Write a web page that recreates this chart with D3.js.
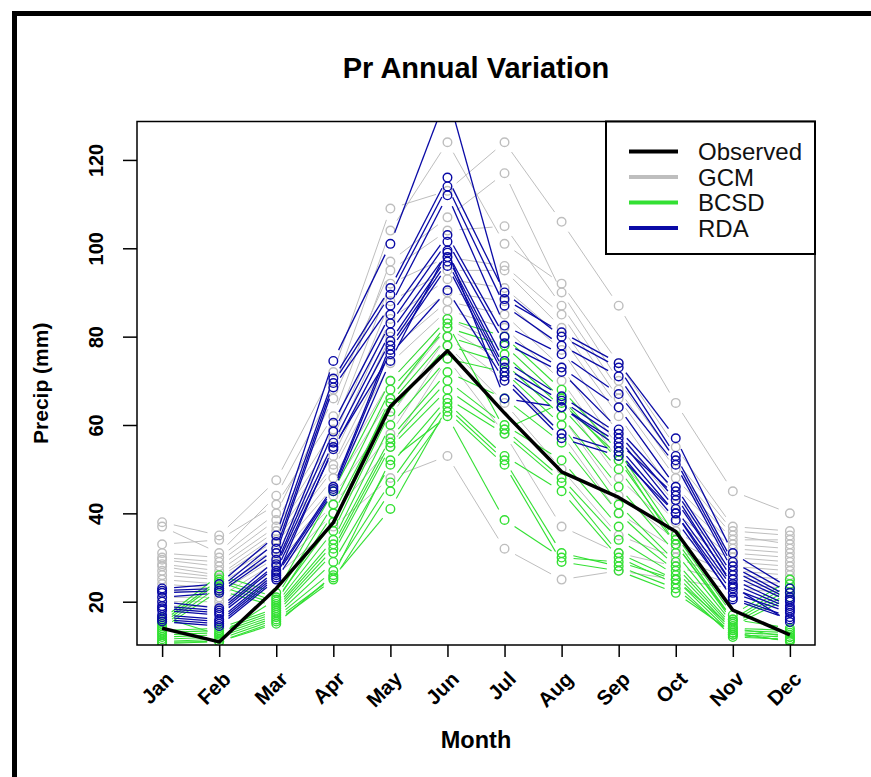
<!DOCTYPE html>
<html>
<head>
<meta charset="utf-8">
<script src="https://cdn.jsdelivr.net/npm/d3@7"></script>
<style>
  html, body { margin: 0; padding: 0; background: #fff; }
  svg { display: block; font-family: "Liberation Sans", Arial, sans-serif; }
</style>
</head>
<body>
<svg id="chart" width="871" height="777"></svg>
<script>
// Monthly precipitation (mm): observed climatology and three model ensembles
const months = ["Jan","Feb","Mar","Apr","May","Jun","Jul","Aug","Sep","Oct","Nov","Dec"];
const yTicks = [20, 40, 60, 80, 100, 120];

const observed = [14.0, 10.9, 23.0, 37.9, 64.2, 76.8, 62.7, 49.4, 43.6, 35.9, 18.1, 12.5];

const gcm = [
  [38, 35, 47.5, 72, 109, 113, 124, 106, 87, 65, 45, 40],
  [37, 31, 44, 68, 104, 124, 101, 92, 74, 55, 37, 36],
  [33, 34, 42, 62, 97, 107, 117, 90, 70, 52, 36, 35],
  [31, 30, 40, 66, 95, 104, 105, 87, 68, 50, 35, 33],
  [30, 29, 38.5, 59, 92, 98, 96, 85, 66, 48, 34, 34],
  [29.5, 28, 37, 57, 88, 95, 95, 82, 64, 46, 33, 32],
  [28.5, 27, 36, 55, 84, 93, 91, 80, 62, 44, 32, 31],
  [28, 26, 35, 53, 80, 90, 88, 77, 58, 42, 31, 30],
  [27, 25.5, 34, 51, 77, 88, 85, 73, 55, 40, 30, 29],
  [26, 25, 33, 50, 74, 86, 82, 70, 52, 38, 29, 28],
  [25, 24, 32, 48, 70, 84, 78, 66, 48, 36, 28, 27],
  [24, 23, 31, 46, 66, 82, 74, 62, 44, 34, 27, 26],
  [22.5, 22, 30, 44, 62, 80, 70, 58, 40, 32, 26, 25],
  [21, 21, 29, 42, 58, 78, 65, 50, 35, 30, 25, 24],
  [20, 20, 27, 40, 55, 75, 58, 37, 31, 28, 24, 23],
  [19, 19, 26, 37, 48, 53, 32, 25, 27, 25, 23, 22]
];

const bcsd = [
  [16, 26, 22, 45, 70, 84, 80, 68, 54, 35, 17, 25],
  [15.5, 25, 21, 42, 68, 82, 78, 66, 52, 34, 16, 24],
  [15, 24.5, 20, 40, 65, 80, 76, 64, 50, 33, 15.5, 23],
  [14.5, 23.5, 19.5, 36, 63, 78, 74, 62, 46, 31, 15, 22],
  [14, 22.5, 19, 34, 60, 75, 72, 60, 42, 29, 14.5, 21],
  [13.5, 14, 18.5, 33, 57, 72, 66, 56, 40, 28, 14, 13.5],
  [13, 13.5, 18, 32, 56, 70, 60, 52, 37, 27, 13.5, 13],
  [12.5, 13, 17.5, 31, 55, 68, 59, 48, 34, 26, 13, 12.5],
  [12, 12.5, 17, 29, 51, 66, 58, 47, 31, 25, 12.5, 12],
  [11.5, 12, 16.5, 27, 47, 65, 53, 45, 30, 24, 12, 11.5],
  [11, 11.5, 16, 25.5, 41, 64, 52, 31, 28, 23, 12.5, 11.2],
  [10.8, 11, 15.5, 25, 45, 63, 51, 29, 27, 22, 13, 11],
  [16.5, 12.5, 20.5, 38, 66, 83, 59, 65, 53, 33, 16, 14],
  [10.5, 11, 15, 26, 52, 62, 38.5, 30, 29, 25, 14, 12]
];

const rda = [
  [23, 24, 35, 74.5, 101, 135, 88.5, 81, 74, 57, 31, 23],
  [22.5, 23, 33.5, 70.5, 91, 116, 90, 80, 73, 53, 29, 22],
  [22, 22.5, 32, 69.5, 89.5, 114, 87, 78, 71, 52, 28, 21],
  [21, 22, 31, 68.5, 87, 112, 82.5, 76, 67, 51, 27, 20.5],
  [20, 18.5, 29.5, 60.5, 85, 103, 80, 73, 64, 46, 26, 20],
  [19, 18, 28.5, 58.5, 83, 101.5, 78.5, 72, 59, 45, 25, 19],
  [18.5, 17.5, 28, 56, 81, 99, 74.5, 66.5, 58, 43, 24, 18.5],
  [18, 17, 27, 54.5, 79, 98, 73, 65.5, 57, 41, 23, 18],
  [17, 16, 26.5, 46, 78, 97, 72, 64, 55, 40, 22, 17.5],
  [16.5, 15.5, 26, 45.5, 77, 96, 71, 58, 54, 38.5, 21, 16.5],
  [16, 15, 25.5, 55, 76, 90.5, 70, 57, 53, 40, 20.5, 16],
  [15.5, 14.5, 25, 45, 74.5, 99.5, 66, 64, 56, 44, 23.5, 15.4]
];

const legendNames = ["Observed", "GCM", "BCSD", "RDA"];
const colors = { Observed: "#000000", GCM: "#bebebe", BCSD: "#33e033", RDA: "#0a0aa6" };

// Plot region
const plot = { left: 137, right: 815, top: 121.5, bottom: 645 };

const svg = d3.select("#chart");

const x = d3.scaleLinear().domain([0.56, 12.44]).range([plot.left, plot.right]);
const y = d3.scaleLinear().domain([10.2, 128.7]).range([plot.bottom, plot.top]);

// Outer frame
svg.append("rect")
  .attr("x", 14.5).attr("y", 13.5)
  .attr("width", 900).attr("height", 900)
  .attr("fill", "none").attr("stroke", "#000").attr("stroke-width", 5);

svg.append("defs").append("clipPath").attr("id", "plotClip")
  .append("rect")
  .attr("x", plot.left).attr("y", plot.top)
  .attr("width", plot.right - plot.left).attr("height", plot.bottom - plot.top);

const marks = svg.append("g").attr("clip-path", "url(#plotClip)");

// Points joined by segments that stop short of each point
const gap = 12;
const radius = 4.3;
function drawSeries(values, color, lw) {
  const pts = values.map((v, i) => [x(i + 1), y(v)]);
  const segs = [];
  for (let i = 0; i < pts.length - 1; i++) {
    const [x0, y0] = pts[i], [x1, y1] = pts[i + 1];
    const L = Math.hypot(x1 - x0, y1 - y0);
    if (L <= 2 * gap) continue;
    const ux = (x1 - x0) / L, uy = (y1 - y0) / L;
    segs.push([x0 + ux * gap, y0 + uy * gap, x1 - ux * gap, y1 - uy * gap]);
  }
  const g = marks.append("g");
  g.selectAll("line").data(segs).join("line")
    .attr("x1", d => d[0]).attr("y1", d => d[1])
    .attr("x2", d => d[2]).attr("y2", d => d[3])
    .attr("stroke", color).attr("stroke-width", lw);
  g.selectAll("circle").data(pts).join("circle")
    .attr("cx", d => d[0]).attr("cy", d => d[1]).attr("r", radius)
    .attr("fill", "none").attr("stroke", color).attr("stroke-width", 1.4);
}

gcm.forEach(s => drawSeries(s, colors.GCM, 1));
bcsd.forEach(s => drawSeries(s, colors.BCSD, 1.1));
rda.forEach(s => drawSeries(s, colors.RDA, 1.3));

marks.append("path")
  .datum(observed)
  .attr("d", d3.line().x((d, i) => x(i + 1)).y(d => y(d)))
  .attr("fill", "none").attr("stroke", colors.Observed)
  .attr("stroke-width", 3.5).attr("stroke-linejoin", "round");

// Plot box
svg.append("rect")
  .attr("x", plot.left).attr("y", plot.top)
  .attr("width", plot.right - plot.left).attr("height", plot.bottom - plot.top)
  .attr("fill", "none").attr("stroke", "#000").attr("stroke-width", 1.5);

// Y axis
const yAxis = svg.append("g").attr("transform", `translate(${plot.left},0)`)
  .call(d3.axisLeft(y).tickValues(yTicks).tickSize(14).tickFormat(d3.format("d")));
yAxis.select(".domain").remove();
yAxis.selectAll(".tick line").attr("stroke", "#000").attr("stroke-width", 1.5);
yAxis.selectAll(".tick text")
  .attr("x", null).attr("dy", null)
  .attr("transform", "translate(-34,0) rotate(-90)")
  .attr("text-anchor", "middle")
  .attr("font-size", 20).attr("font-weight", "bold").attr("fill", "#000")
  .attr("font-family", "Liberation Sans, Arial, sans-serif");

// X axis
const xAxis = svg.append("g").attr("transform", `translate(0,${plot.bottom})`)
  .call(d3.axisBottom(x).tickValues(d3.range(1, 13)).tickSize(12).tickFormat(d => months[d - 1]));
xAxis.select(".domain").remove();
xAxis.selectAll(".tick line").attr("stroke", "#000").attr("stroke-width", 1.5);
xAxis.selectAll(".tick text")
  .attr("y", null).attr("dy", null)
  .attr("transform", "translate(7,30) rotate(-45)")
  .attr("text-anchor", "end")
  .attr("dominant-baseline", "central")
  .attr("font-size", 20.5).attr("font-weight", "bold").attr("fill", "#000")
  .attr("font-family", "Liberation Sans, Arial, sans-serif");

// Titles
svg.append("text")
  .attr("x", (plot.left + plot.right) / 2).attr("y", 78)
  .attr("text-anchor", "middle").attr("font-size", 29).attr("font-weight", "bold")
  .text("Pr Annual Variation");

svg.append("text")
  .attr("x", (plot.left + plot.right) / 2).attr("y", 748)
  .attr("text-anchor", "middle").attr("font-size", 23.5).attr("font-weight", "bold")
  .text("Month");

svg.append("text")
  .attr("transform", `translate(48,${(plot.top + plot.bottom) / 2}) rotate(-90)`)
  .attr("text-anchor", "middle").attr("font-size", 21).attr("font-weight", "bold")
  .text("Precip (mm)");

// Legend
const legend = svg.append("g");
legend.append("rect")
  .attr("x", 606).attr("y", plot.top)
  .attr("width", plot.right - 606).attr("height", 254 - plot.top)
  .attr("fill", "#fff").attr("stroke", "#000").attr("stroke-width", 2);
const rowY = d3.scalePoint().domain(legendNames).range([151.5, 228]);
legendNames.forEach(name => {
  legend.append("line")
    .attr("x1", 629).attr("x2", 678)
    .attr("y1", rowY(name)).attr("y2", rowY(name))
    .attr("stroke", colors[name]).attr("stroke-width", 4);
  legend.append("text")
    .attr("x", 698).attr("y", rowY(name)).attr("dy", "0.36em")
    .attr("font-size", 24).attr("fill", "#111")
    .text(name);
});
</script>
</body>
</html>
